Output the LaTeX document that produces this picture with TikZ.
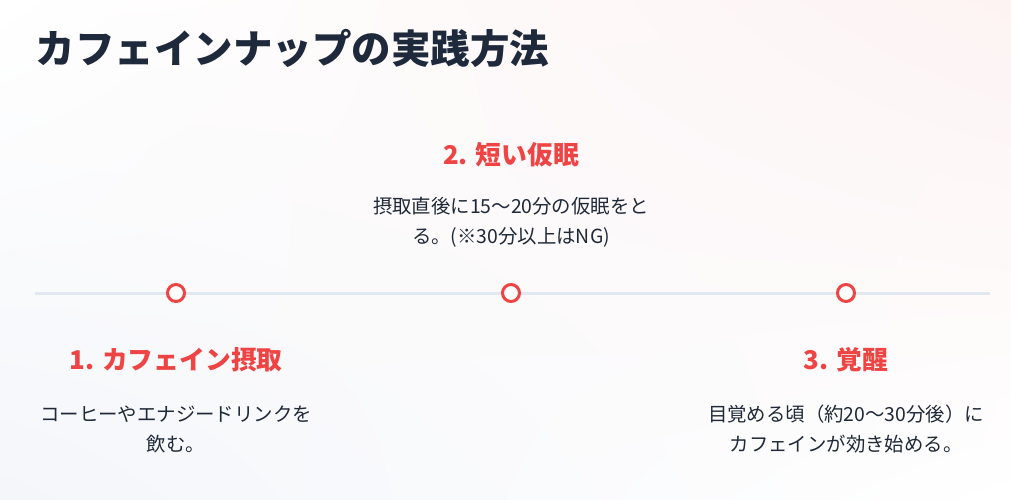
\documentclass[tikz,border=0pt]{standalone}
\usepackage{fontspec}
\setmainfont{Noto Sans CJK JP}
\usetikzlibrary{positioning,shadings}
\definecolor{ink}{HTML}{1E293B}
\definecolor{bodyink}{HTML}{1F2937}
\definecolor{accent}{HTML}{EF4444}
\definecolor{rail}{HTML}{E2E8F0}
\definecolor{pinkbg}{HTML}{FDF3F3}
\definecolor{bluebg}{HTML}{F4F6FA}
\begin{document}
\begin{tikzpicture}[x=1pt,y=-1pt,
		dot/.style={circle,draw=accent,line width=3pt,fill=white,minimum size=17pt,inner sep=0pt},
		head/.style={text=accent,font=\fontsize{25.8}{30}\selectfont\bfseries},
		body/.style={text=bodyink,font=\fontsize{19.4}{30}\selectfont,align=center}]
			\shade[upper left=white,upper right=pinkbg,lower left=bluebg,lower right=white] (0,0) rectangle (1011,500);
			\useasboundingbox (0,0) rectangle (1011,500);
			\node[anchor=west,text=ink,font=\fontsize{39.5}{44}\selectfont\bfseries] (title) at (32,48) {カフェインナップの実践方法};
			\coordinate (railL) at (35,293);
			\coordinate (railR) at (990,293);
			\draw[rail,line width=3pt] (railL)--(railR);
			\node[dot] (dot1) at (176,293) {};
			\node[dot] (dot2) at (511,293) {};
			\node[dot] (dot3) at (846,293) {};
			\node[head] (head1) at (176,360) {1. カフェイン摂取};
			\node[body] (body1) at (176,429) {コーヒーやエナジードリンクを\\飲む。};
			\node[head] (head2) at (511,155) {2. 短い仮眠};
			\node[body] (body2) at (511,222) {摂取直後に15〜20分の仮眠をと\\る。(※30分以上はNG)};
			\node[head] (head3) at (846,360) {3. 覚醒};
			\node[body] (body3) at (846,429) {目覚める頃（約20〜30分後）に\\カフェインが効き始める。};
		\end{tikzpicture}
\end{document}
